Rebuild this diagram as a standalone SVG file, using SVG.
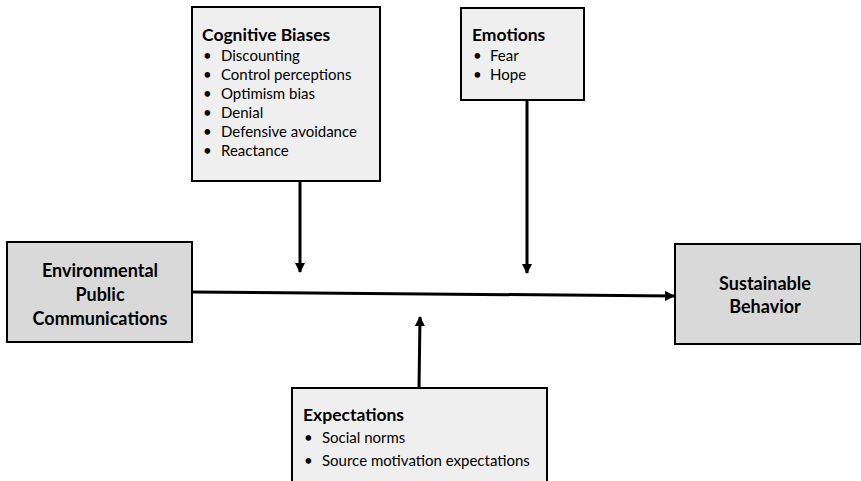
<svg xmlns="http://www.w3.org/2000/svg" width="861" height="481" viewBox="0 0 861 481">
<style>
.lt{fill:#efefef;stroke:#000;stroke-width:2}
.dk{fill:#d9d9d9;stroke:#000;stroke-width:2}
text{font-family:Lato,"Open Sans",sans-serif;fill:#000}
.h{font-weight:bold;font-size:17.5px}
.i{font-size:15px}
.m{font-weight:bold;font-size:18px;text-anchor:middle}
.c{stroke:#000;stroke-width:3;fill:none}
</style>
<defs>
<marker id="a" viewBox="0 0 10 10" refX="9" refY="5" markerWidth="3.4" markerHeight="3.4" orient="auto" markerUnits="strokeWidth">
<path d="M0,0 L10,5 L0,10 z" fill="#000"/>
</marker>
</defs>
<rect width="861" height="481" fill="#fff"/>
<g id="cognitive">
<rect class="lt" x="192" y="7" width="188" height="174"/>
<text class="h" x="202" y="41">Cognitive Biases</text>
<text class="i" x="203" y="61">•</text><text class="i" x="221" y="61">Discounting</text>
<text class="i" x="203" y="80">•</text><text class="i" x="221" y="80">Control perceptions</text>
<text class="i" x="203" y="99">•</text><text class="i" x="221" y="99">Optimism bias</text>
<text class="i" x="203" y="118">•</text><text class="i" x="221" y="118">Denial</text>
<text class="i" x="203" y="137">•</text><text class="i" x="221" y="137">Defensive avoidance</text>
<text class="i" x="203" y="156">•</text><text class="i" x="221" y="156">Reactance</text>
</g>
<g id="emotions">
<rect class="lt" x="461" y="8" width="123" height="92"/>
<text class="h" x="472" y="41">Emotions</text>
<text class="i" x="473" y="61">•</text><text class="i" x="490" y="61">Fear</text>
<text class="i" x="473" y="80">•</text><text class="i" x="490" y="80">Hope</text>
</g>
<g id="env">
<rect class="dk" x="7" y="242" width="185" height="100"/>
<text class="m" x="100" y="277">Environmental</text>
<text class="m" x="100" y="301">Public</text>
<text class="m" x="100" y="325">Communications</text>
</g>
<g id="sustainable">
<rect class="dk" x="675" y="244" width="186" height="100"/>
<text class="m" x="765" y="290">Sustainable</text>
<text class="m" x="765" y="313">Behavior</text>
</g>
<g id="expectations">
<rect class="lt" x="292" y="388" width="255" height="95"/>
<text class="h" x="303" y="421">Expectations</text>
<text class="i" x="304" y="443">•</text><text class="i" x="322" y="443">Social norms</text>
<text class="i" x="304" y="466">•</text><text class="i" x="322" y="466">Source motivation expectations</text>
</g>
<g id="connectors">
<line class="c" x1="192" y1="292" x2="674" y2="296" marker-end="url(#a)"/>
<line class="c" x1="300" y1="181" x2="300" y2="272" marker-end="url(#a)"/>
<line class="c" x1="527" y1="100" x2="527" y2="273" marker-end="url(#a)"/>
<line class="c" x1="419" y1="388" x2="420" y2="317" marker-end="url(#a)"/>
</g>
</svg>
